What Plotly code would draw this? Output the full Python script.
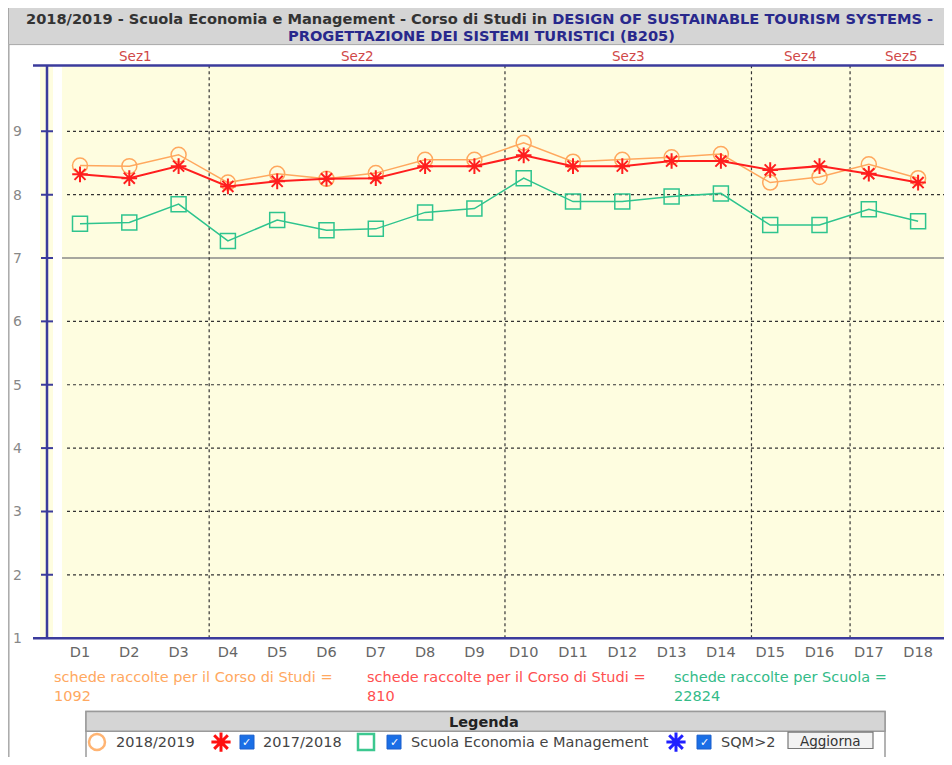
import plotly.graph_objects as go

# ---------------- data ----------------
categories = [f"D{i}" for i in range(1, 19)]
vals_2018_2019 = [8.46, 8.45, 8.63, 8.19, 8.33, 8.25, 8.34, 8.55, 8.55,
                  8.82, 8.52, 8.55, 8.59, 8.64, 8.19, 8.28, 8.48, 8.26]
vals_2017_2018 = [8.32, 8.26, 8.45, 8.13, 8.21, 8.25, 8.26, 8.45, 8.45,
                  8.62, 8.45, 8.45, 8.53, 8.53, 8.39, 8.45, 8.33, 8.19]
vals_scuola = [7.54, 7.56, 7.85, 7.27, 7.60, 7.44, 7.46, 7.72, 7.78,
               8.26, 7.89, 7.89, 7.97, 8.02, 7.52, 7.52, 7.77, 7.58]
sections = [("Sez1", 1, 3), ("Sez2", 4, 9), ("Sez3", 10, 14), ("Sez4", 15, 16), ("Sez5", 17, 18)]
y_ticks = [1, 2, 3, 4, 5, 6, 7, 8, 9]
schede = [("schede raccolte per il Corso di Studi =", "1092"),
          ("schede raccolte per il Corso di Studi =", "810"),
          ("schede raccolte per Scuola =", "22824")]
legend_labels = ["2018/2019", "2017/2018", "Scuola Economia e Management", "SQM>2"]

# ---------------- geometry (reference page pixels; page body has an 8px margin) ----------------
OFF = 8
W, H = 952 - 2 * OFF, 765 - 2 * OFF
PAGE_R, PAGE_B = OFF + W, OFF + H
L, T, B = 47, 66, 645
FONT = "Verdana, DejaVu Sans, sans-serif"
FS = 14.5
C_OR = "#ffa85e"
C_RED = "#ff1e1e"
C_GR = "#2ec48e"
C_AX = "#3b3b9c"
STEP, X_FIRST = 49.3, 80  # pixel spacing of categories, pixel of D1
X0 = 1 + (L - X_FIRST) / STEP
X1 = 1 + (PAGE_R - X_FIRST) / STEP
Y0, Y1 = 1.0, 10.04


def px(p):
    return (p - OFF) / W


def py(p):
    return 1 - (p - OFF) / H


def xd(p):  # page pixel -> data x
    return 1 + (p - X_FIRST) / STEP


xs = list(range(1, len(categories) + 1))

fig = go.Figure()
fig.add_trace(go.Scatter(x=xs, y=vals_2018_2019, mode="lines+markers", name="2018/2019",
                         line=dict(color=C_OR, width=1.5),
                         marker=dict(symbol="circle-open", size=15, color=C_OR, line=dict(width=1.5))))
fig.add_trace(go.Scatter(x=xs, y=vals_2017_2018, mode="lines+markers", name="2017/2018",
                         line=dict(color=C_RED, width=2),
                         marker=dict(symbol="asterisk-open", size=13, color=C_RED, line=dict(width=2, color=C_RED))))
fig.add_trace(go.Scatter(x=xs, y=vals_scuola, mode="lines+markers", name="Scuola Economia e Management",
                         line=dict(color=C_GR, width=1.5),
                         marker=dict(symbol="square-open", size=15, color=C_GR, line=dict(width=1.5))))

# legend symbols on a full-page pixel axis (x2/y2)
leg_y = 750
leg_syms = [(97, "circle-open", "#ffb473"), (221, "asterisk-open", "#ff1010"),
            (366, "square-open", "#3cc890"), (676, "asterisk-open", "#2020ff")]
for lx, sym, col in leg_syms:
    fig.add_trace(go.Scatter(x=[lx], y=[leg_y], xaxis="x2", yaxis="y2", mode="markers", cliponaxis=False,
                             marker=dict(symbol=sym, size=16, color=col,
                                         line=dict(width=2.5 if "asterisk" not in sym else 3, color=col)),
                             showlegend=False, hoverinfo="skip"))

shapes = []
annotations = []

# title box
shapes.append(dict(type="rect", xref="paper", yref="paper", x0=px(8.5), x1=px(960), y0=py(45), y1=py(6),
                   fillcolor="#d5d5d5", line=dict(color="#a8a8a8", width=1), layer="below"))
# page left border
shapes.append(dict(type="line", xref="paper", yref="paper", x0=px(8.8), x1=px(8.8), y0=py(45), y1=py(770),
                   line=dict(color="#a8a8a8", width=1.5)))
# yellow backgrounds
shapes.append(dict(type="rect", xref="x", yref="y", x0=xd(62), x1=X1 + 1, y0=Y0, y1=Y1,
                   fillcolor="#fefde0", line=dict(width=0), layer="below"))
shapes.append(dict(type="rect", xref="paper", yref="y", x0=px(40), x1=px(53), y0=Y0, y1=Y1,
                   fillcolor="#fefde0", line=dict(width=0), layer="below"))
# horizontal grid
for v in range(2, 10):
    if v == 7:
        shapes.append(dict(type="line", xref="x", yref="y", x0=xd(62), x1=X1 + 1, y0=v, y1=v,
                           line=dict(color="#8a8a8a", width=1.5), layer="below"))
    else:
        shapes.append(dict(type="line", xref="x", yref="y", x0=xd(67), x1=X1 + 1, y0=v, y1=v,
                           line=dict(color="#333333", width=1.2, dash="dot"), layer="below"))
# section boundaries + labels
bounds = [xd(62)]
for i, (name, a, b) in enumerate(sections):
    if i < len(sections) - 1:
        xb = b + 0.62
        bounds.append(xb)
        shapes.append(dict(type="line", xref="x", yref="y", x0=xb, x1=xb, y0=Y0, y1=Y1,
                           line=dict(color="#333333", width=1.2, dash="dot"), layer="below"))
bounds.append(xd(952))
for i, (name, a, b) in enumerate(sections):
    annotations.append(dict(text=name, xref="x", yref="paper", x=(bounds[i] + bounds[i + 1]) / 2, y=py(57),
                            showarrow=False, font=dict(family=FONT, size=FS - 1, color="#d04848"),
                            xanchor="center", yanchor="middle"))
# blue axes
shapes.append(dict(type="line", xref="paper", yref="paper", x0=px(33), x1=px(960), y0=py(66), y1=py(66),
                   line=dict(color=C_AX, width=2.5)))
shapes.append(dict(type="line", xref="paper", yref="paper", x0=px(33), x1=px(960), y0=py(645), y1=py(645),
                   line=dict(color=C_AX, width=2.5)))
shapes.append(dict(type="line", xref="paper", yref="paper", x0=px(47), x1=px(47), y0=py(645), y1=py(66),
                   line=dict(color=C_AX, width=2.5)))
for v in y_ticks[1:]:
    shapes.append(dict(type="line", xref="paper", yref="y", x0=px(41), x1=px(53), y0=v, y1=v,
                       line=dict(color=C_AX, width=2)))

# title
annotations.append(dict(
    text="<b>2018/2019 - Scuola Economia e Management - Corso di Studi in "
         "<span style='color:#28288c'>DESIGN OF SUSTAINABLE TOURISM SYSTEMS -</span></b>",
    xref="paper", yref="paper", x=px(479), y=py(19), showarrow=False,
    font=dict(family=FONT, size=14.6, color="#333333"), xanchor="center", yanchor="middle"))
annotations.append(dict(
    text="<b>PROGETTAZIONE DEI SISTEMI TURISTICI (B205)</b>",
    xref="paper", yref="paper", x=px(481), y=py(36), showarrow=False,
    font=dict(family=FONT, size=14.6, color="#28288c"), xanchor="center", yanchor="middle"))

# schede raccolte
for (t1, t2), xp, col in zip(schede, [52, 365, 672], ["#ffa860", "#ff5050", "#33bb88"]):
    annotations.append(dict(text=f"{t1}<br>{t2}", xref="paper", yref="paper", x=px(xp), y=py(694),
                            showarrow=False, align="left", xanchor="left", yanchor="middle",
                            font=dict(family=FONT, size=FS, color=col)))

# legend box
shapes.append(dict(type="rect", xref="paper", yref="paper", x0=px(86), x1=px(885), y0=py(775), y1=py(719),
                   fillcolor="#ffffff", line=dict(color="#9a9a9a", width=1.5), layer="below"))
shapes.append(dict(type="rect", xref="paper", yref="paper", x0=px(86), x1=px(885), y0=py(739), y1=py(719),
                   fillcolor="#d5d5d5", line=dict(color="#9a9a9a", width=1.5), layer="below"))
annotations.append(dict(text="<b>Legenda</b>", xref="paper", yref="paper", x=px(484), y=py(729.5),
                        showarrow=False, font=dict(family=FONT, size=FS, color="#222222"),
                        xanchor="center", yanchor="middle"))
# checkboxes
for cx in [247, 394, 704]:
    shapes.append(dict(type="rect", xref="paper", yref="paper", x0=px(cx - 7), x1=px(cx + 7),
                       y0=py(leg_y + 7), y1=py(leg_y - 7), fillcolor="#1a6fe6",
                       line=dict(color="#1a5fcc", width=1)))
    annotations.append(dict(text="<b>✓</b>", xref="paper", yref="paper", x=px(cx), y=py(leg_y),
                            showarrow=False, font=dict(family="DejaVu Sans", size=11, color="#ffffff"),
                            xanchor="center", yanchor="middle"))
# legend labels
for text, xl in zip(legend_labels, [114, 261, 409, 719]):
    annotations.append(dict(text=text, xref="paper", yref="paper", x=px(xl), y=py(leg_y),
                            showarrow=False, font=dict(family=FONT, size=FS, color="#444444"),
                            xanchor="left", yanchor="middle"))
# button
shapes.append(dict(type="rect", xref="paper", yref="paper", x0=px(788), x1=px(873), y0=py(756.5), y1=py(740),
                   fillcolor="#f2f2f2", line=dict(color="#777777", width=1.2)))
annotations.append(dict(text="Aggiorna", xref="paper", yref="paper", x=px(830.5), y=py(749),
                        showarrow=False, font=dict(family=FONT, size=FS - 1, color="#333333"),
                        xanchor="center", yanchor="middle"))

fig.update_layout(
    width=W, height=H,
    margin=dict(l=0, r=0, t=0, b=0, pad=0),
    paper_bgcolor="#ffffff", plot_bgcolor="rgba(0,0,0,0)",
    showlegend=False,
    font=dict(family=FONT),
    xaxis=dict(domain=[px(L), 1], range=[X0, X1], tickmode="array", tickvals=xs, ticktext=categories,
               showgrid=False, zeroline=False, showline=False, ticks="", anchor="y",
               tickfont=dict(family=FONT, size=FS, color="#666666"), ticklabelstandoff=3),
    yaxis=dict(domain=[py(B), py(T)], range=[Y0, Y1], tickmode="array", tickvals=y_ticks,
               ticktext=[str(v) for v in y_ticks], anchor="x",
               showgrid=False, zeroline=False, showline=False, ticks="",
               tickfont=dict(family=FONT, size=FS - 0.5, color="#888888"), ticklabelstandoff=24),
    xaxis2=dict(domain=[0, 1], range=[OFF, PAGE_R], anchor="y2", visible=False, fixedrange=True),
    yaxis2=dict(domain=[0, 1], range=[PAGE_B, OFF], anchor="x2", visible=False, fixedrange=True),
    shapes=shapes, annotations=annotations,
)

fig.write_html("out.html")
